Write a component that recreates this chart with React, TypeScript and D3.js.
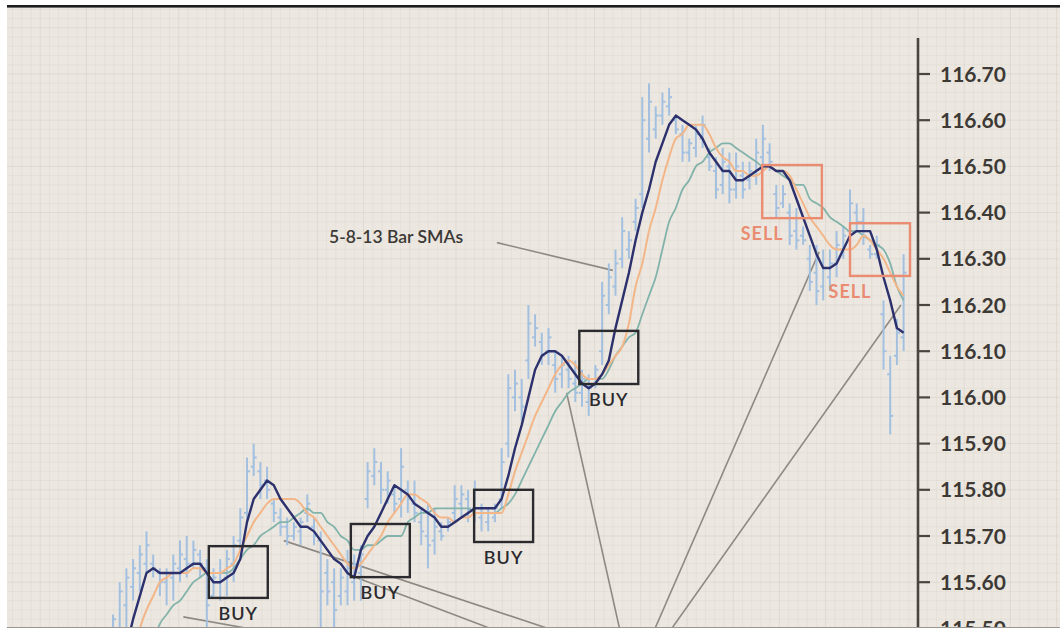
import React from 'react';
import * as d3 from 'd3';

// ---- OHLC bars (price) ----
const highs = [115.53,115.60,115.63,115.65,115.68,115.71,115.66,115.63,115.63,115.66,115.69,115.70,115.69,115.67,115.65,115.63,115.65,115.67,115.70,115.76,
115.87,115.90,115.86,115.85,115.78,115.76,115.74,115.73,115.74,115.79,115.74,115.71,115.65,115.63,115.63,115.67,115.66,115.68,115.86,115.89,
115.86,115.84,115.81,115.89,115.82,115.82,115.76,115.77,115.76,115.73,115.74,115.81,115.81,115.80,115.82,115.77,115.76,115.77,115.89,116.05,
116.06,116.04,116.20,116.18,116.14,116.15,116.10,116.09,116.09,116.08,116.06,116.05,116.07,116.25,116.29,116.32,116.39,116.36,116.43,116.65,
116.68,116.63,116.66,116.67,116.61,116.59,116.56,116.59,116.61,116.54,116.52,116.54,116.53,116.53,116.51,116.51,116.56,116.59,116.55,116.46,
116.46,116.42,116.41,116.37,116.33,116.33,116.32,116.32,116.36,116.37,116.45,116.42,116.41,116.33,116.35,116.21,116.09,116.17,116.31];
const lows = [115.47,115.47,115.50,115.56,115.58,115.62,115.61,115.57,115.55,115.56,115.60,115.61,115.63,115.61,115.50,115.57,115.56,115.57,115.60,115.67,
115.73,115.83,115.78,115.78,115.73,115.70,115.68,115.69,115.68,115.73,115.68,115.50,115.55,115.50,115.55,115.55,115.56,115.56,115.76,115.81,
115.77,115.77,115.75,115.74,115.75,115.73,115.68,115.63,115.66,115.69,115.71,115.73,115.74,115.73,115.73,115.71,115.71,115.73,115.76,115.87,
115.97,115.95,116.04,116.11,116.07,116.07,116.01,116.02,116.02,115.99,115.98,115.96,116.02,116.07,116.18,116.22,116.28,116.30,116.36,116.41,
116.53,116.56,116.59,116.61,116.57,116.51,116.51,116.52,116.54,116.49,116.43,116.44,116.42,116.43,116.43,116.45,116.46,116.49,116.49,116.39,
116.41,116.33,116.32,116.33,116.23,116.20,116.21,116.23,116.26,116.30,116.33,116.36,116.33,116.30,116.30,116.06,115.92,116.07,116.10];
const opens = [115.48,115.50,115.55,115.59,115.62,115.64,115.64,115.62,115.60,115.61,115.63,115.65,115.64,115.66,115.63,115.57,115.60,115.61,115.64,115.69,
115.75,115.85,115.84,115.82,115.77,115.74,115.72,115.70,115.71,115.75,115.72,115.69,115.62,115.60,115.57,115.58,115.60,115.62,115.78,115.83,
115.84,115.80,115.79,115.78,115.80,115.77,115.73,115.70,115.69,115.71,115.72,115.75,115.77,115.78,115.76,115.74,115.73,115.74,115.78,115.90,
116.00,116.00,116.08,116.13,116.12,116.10,116.07,116.05,116.06,116.03,116.01,115.99,116.03,116.10,116.20,116.24,116.30,116.32,116.38,116.44,
116.56,116.58,116.61,116.63,116.60,116.57,116.53,116.54,116.56,116.52,116.49,116.46,116.50,116.45,116.48,116.47,116.48,116.52,116.53,116.44,
116.42,116.40,116.36,116.35,116.30,116.27,116.24,116.26,116.29,116.32,116.36,116.40,116.38,116.32,116.31,116.18,116.05,116.09,116.13];
const closes = [115.52,115.58,115.61,115.63,115.66,115.68,115.63,115.60,115.62,115.64,115.66,115.64,115.67,115.64,115.55,115.61,115.62,115.65,115.68,115.74,
115.84,115.87,115.81,115.80,115.75,115.72,115.70,115.72,115.73,115.77,115.70,115.58,115.58,115.54,115.61,115.63,115.64,115.66,115.84,115.86,
115.80,115.82,115.77,115.85,115.78,115.75,115.71,115.68,115.72,115.70,115.73,115.78,115.79,115.76,115.80,115.75,115.75,115.76,115.86,116.02,
116.03,115.98,116.16,116.15,116.09,116.13,116.04,116.07,116.04,116.01,116.04,116.02,116.06,116.22,116.26,116.29,116.36,116.34,116.41,116.60,
116.64,116.61,116.64,116.65,116.58,116.53,116.55,116.57,116.59,116.50,116.45,116.51,116.45,116.50,116.45,116.49,116.53,116.56,116.51,116.41,
116.44,116.35,116.34,116.34,116.25,116.23,116.28,116.29,116.33,116.35,116.42,116.38,116.35,116.31,116.33,116.10,115.96,116.14,116.27];

// ---- moving averages (price; the first values run below the chart's lower edge) ----
const sma5 = [null,null,115.46,115.52,115.57,115.62,115.63,115.62,115.62,115.62,115.62,115.63,115.64,115.64,115.62,115.60,115.60,115.61,115.62,115.65,
115.73,115.78,115.80,115.82,115.81,115.78,115.76,115.74,115.72,115.72,115.71,115.69,115.67,115.65,115.64,115.62,115.61,115.67,115.70,115.72,
115.75,115.78,115.81,115.80,115.79,115.77,115.76,115.75,115.74,115.72,115.72,115.73,115.74,115.75,115.76,115.76,115.76,115.76,115.78,115.83,
115.89,115.94,116.00,116.06,116.09,116.10,116.10,116.09,116.07,116.05,116.03,116.02,116.03,116.05,116.08,116.15,116.21,116.27,116.34,116.40,
116.45,116.51,116.55,116.59,116.61,116.60,116.59,116.58,116.56,116.53,116.51,116.49,116.49,116.47,116.47,116.48,116.49,116.50,116.50,116.49,
116.49,116.47,116.43,116.39,116.35,116.31,116.28,116.28,116.29,116.32,116.35,116.36,116.36,116.36,116.32,116.26,116.21,116.15,116.14];
const sma8 = [null,null,null,115.45,115.50,115.54,115.57,115.60,115.61,115.62,115.62,115.62,115.63,115.63,115.62,115.62,115.62,115.63,115.64,115.67,
115.70,115.73,115.75,115.77,115.78,115.78,115.78,115.78,115.77,115.75,115.74,115.72,115.70,115.68,115.66,115.64,115.63,115.64,115.66,115.68,
115.70,115.73,115.75,115.77,115.79,115.79,115.78,115.77,115.75,115.74,115.74,115.73,115.74,115.74,115.75,115.75,115.75,115.75,115.75,115.79,
115.84,115.88,115.92,115.96,115.99,116.02,116.05,116.07,116.08,116.07,116.05,116.04,116.04,116.05,116.07,116.09,116.11,116.16,116.24,116.29,
116.36,116.41,116.47,116.52,116.56,116.57,116.59,116.59,116.59,116.57,116.54,116.52,116.51,116.49,116.49,116.48,116.48,116.49,116.50,116.49,
116.49,116.48,116.45,116.42,116.39,116.37,116.35,116.33,116.32,116.32,116.32,116.33,116.35,116.34,116.32,116.30,116.27,116.24,116.22];
const sma13 = [null,null,null,null,null,null,115.47,115.51,115.53,115.55,115.56,115.58,115.60,115.61,115.62,115.62,115.62,115.62,115.63,115.65,
115.67,115.68,115.70,115.71,115.72,115.73,115.73,115.74,115.75,115.76,115.75,115.75,115.73,115.72,115.70,115.69,115.67,115.67,115.68,115.68,
115.69,115.70,115.70,115.70,115.73,115.74,115.75,115.75,115.76,115.76,115.76,115.76,115.76,115.76,115.75,115.75,115.75,115.75,115.76,115.77,
115.79,115.82,115.85,115.88,115.91,115.94,115.97,115.99,116.01,116.02,116.03,116.04,116.04,116.04,116.06,116.09,116.11,116.13,116.14,116.18,
116.22,116.26,116.32,116.38,116.41,116.45,116.47,116.50,116.51,116.53,116.54,116.55,116.55,116.54,116.53,116.52,116.51,116.50,116.50,116.49,
116.48,116.47,116.46,116.46,116.43,116.42,116.41,116.39,116.38,116.37,116.36,116.36,116.35,116.34,116.33,116.32,116.29,116.24,116.21];

// ---- axis ticks ----
const tickValues = [115.5,115.6,115.7,115.8,115.9,116.0,116.1,116.2,116.3,116.4,116.5,116.6,116.7];

// ---- signal boxes: [startBar, endBar, topPrice, bottomPrice] ----
const signalTypes = ['BUY','BUY','BUY','BUY','SELL','SELL'];
const signalStart = [14.3, 35.5, 53.9, 69.6, 96.9, 110.0];
const signalEnd = [23.1, 44.3, 62.7, 78.4, 105.8, 118.96];
const signalTop = [115.678, 115.726, 115.80, 116.144, 116.503, 116.377];
const signalBottom = [115.566, 115.611, 115.687, 116.029, 116.388, 116.263];

// ---- callout lines: [bar, price] -> [bar, price] ----
const calloutFrom = [[57.3, 116.335], [67.7, 116.01], [105.4, 116.315], [117.6, 116.20], [10.5, 115.525], [25.5, 115.69], [36.3, 115.61]];
const calloutTo = [[74.6, 116.275], [75.6, 115.50], [80.9, 115.50], [83.4, 115.50], [22.0, 115.495], [64.9, 115.50], [56.3, 115.50]];

export default function App() {
  const W = 1064, H = 629;
  const x = d3.scaleLinear().domain([0, 118]).range([113, 903.6]);
  const y = d3.scaleLinear().domain([115.5, 116.7]).range([628.4, 74]);
  const n = highs.length;
  const idx = d3.range(n);

  const mk = (arr: (number | null)[], curve: d3.CurveFactory) =>
    d3.line<number>()
      .defined((i) => arr[i] != null)
      .x((i) => x(i))
      .y((i) => y(arr[i] as number))
      .curve(curve)(idx) || '';

  const axisX = 918;
  const left = 7, right = 1060, top = 7, bottom = 627;

  // grid
  const step = (y(115.6) - y(115.7)) / 5;
  const hLines: number[] = [];
  for (let v = y(116.7) - step * 8; v < bottom; v += step) hLines.push(v);
  const vLines: number[] = [];
  for (let v = axisX + step * 15; v > left; v -= step) vLines.push(v);

  const font = 'Lato, "Open Sans", sans-serif';

  return (
    <svg width={W} height={H} style={{ position: 'absolute', left: 0, top: 0, background: '#ffffff' }}>
      <defs>
        <clipPath id="plot">
          <rect x={left} y={top} width={right - left} height={bottom - top} />
        </clipPath>
      </defs>
      <rect x={left} y={top} width={right - left} height={bottom - top} fill="#ece8e1" />
      <g clipPath="url(#plot)">
        {hLines.map((v, i) => (
          <line key={'h' + i} x1={left} x2={right} y1={v} y2={v}
            stroke="#d6cfc5" strokeOpacity={Math.round((v - y(116.7)) / step) % 5 === 0 ? 0.55 : 0.3} strokeWidth={1} />
        ))}
        {vLines.map((v, i) => (
          <line key={'v' + i} x1={v} x2={v} y1={top} y2={bottom}
            stroke="#d6cfc5" strokeOpacity={i % 5 === 0 ? 0.55 : 0.3} strokeWidth={1} />
        ))}

        {/* callout lines */}
        {calloutFrom.map((f, i) => (
          <line key={'c' + i} x1={x(f[0])} y1={y(f[1])} x2={x(calloutTo[i][0])} y2={y(calloutTo[i][1])}
            stroke="#8e8983" strokeWidth={1.6} />
        ))}

        {/* OHLC bars */}
        {idx.map((i) => (
          <g key={'b' + i} stroke="#a3c0e0" strokeWidth={2}>
            <line x1={x(i)} x2={x(i)} y1={y(highs[i])} y2={y(lows[i])} />
            <line x1={x(i) - 3} x2={x(i)} y1={y(opens[i])} y2={y(opens[i])} />
            <line x1={x(i)} x2={x(i) + 3} y1={y(closes[i])} y2={y(closes[i])} />
          </g>
        ))}

        {/* SMAs */}
        <path d={mk(sma13, d3.curveMonotoneX)} fill="none" stroke="#82b3ab" strokeWidth={1.8} />
        <path d={mk(sma8, d3.curveMonotoneX)} fill="none" stroke="#f2b688" strokeWidth={2} />
        <path d={mk(sma5, d3.curveLinear)} fill="none" stroke="#2c306c" strokeWidth={2.4} strokeLinejoin="round" />

        {/* signal boxes */}
        {signalTypes.map((t, i) => {
          const x0 = x(signalStart[i]), x1 = x(signalEnd[i]);
          const y0 = y(signalTop[i]), y1 = y(signalBottom[i]);
          const buy = t === 'BUY';
          const col = buy ? '#2b2a2e' : '#ea8c72';
          return (
            <g key={'s' + i}>
              <rect x={x0} y={y0} width={x1 - x0} height={y1 - y0} fill="none" stroke={col} strokeWidth={2.4} />
              <text x={buy ? (x0 + x1) / 2 : x0} y={y1 + 22} textAnchor="middle" fill={col}
                fontFamily={font} fontSize={18} fontWeight={buy ? 600 : 700} letterSpacing={1}>{t}</text>
            </g>
          );
        })}

        <text x={329} y={243} fill="#3b3835" fontFamily={font} fontSize={17.5} fontWeight={600}>5-8-13 Bar SMAs</text>

        {/* axis */}
        <line x1={axisX} x2={axisX} y1={38} y2={H} stroke="#4a4541" strokeWidth={2.6} />
        {tickValues.map((t) => (
          <g key={'t' + t}>
            <line x1={axisX} x2={axisX + 12} y1={y(t)} y2={y(t)} stroke="#4a4541" strokeWidth={2.2} />
            <text x={940} y={y(t)} dy="0.36em" fill="#3d3935" fontFamily={font} fontSize={21} fontWeight={700}>
              {t.toFixed(2)}
            </text>
          </g>
        ))}
      </g>
      <rect x={left} y={5} width={right - left} height={2.6} fill="#1d1d1d" />
      <line x1={left} x2={right} y1={627.5} y2={627.5} stroke="#9a9691" strokeWidth={1.2} />
    </svg>
  );
}
